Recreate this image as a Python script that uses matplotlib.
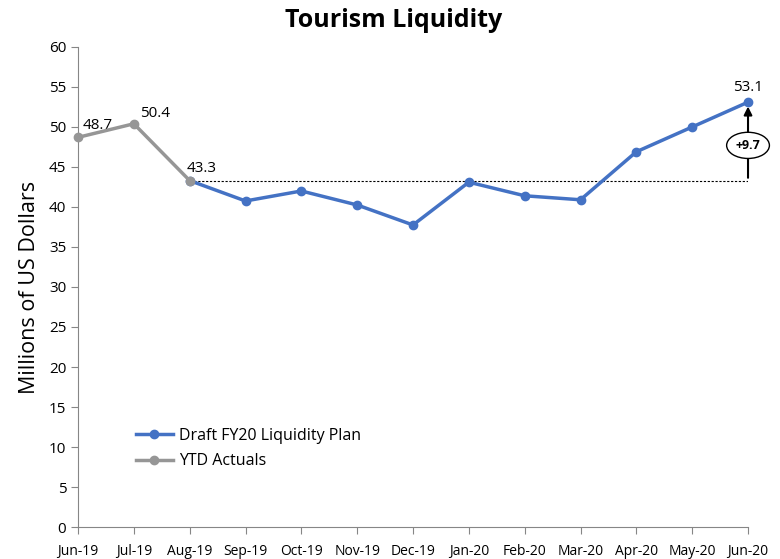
import matplotlib
matplotlib.use('Agg')
from matplotlib import pyplot as plt
from matplotlib import font_manager

fams = set(f.name for f in font_manager.fontManager.ttflist)
font = 'Liberation Sans Narrow' if 'Liberation Sans Narrow' in fams else 'Open Sans'
plt.rcParams['font.family'] = [font, 'DejaVu Sans']

months = ['Jun-19', 'Jul-19', 'Aug-19', 'Sep-19', 'Oct-19', 'Nov-19', 'Dec-19',
          'Jan-20', 'Feb-20', 'Mar-20', 'Apr-20', 'May-20', 'Jun-20']
plan = [43.3, 40.75, 42.0, 40.25, 37.75, 43.1, 41.4, 40.9, 46.9, 50.0, 53.1]
actuals = [48.7, 50.4, 43.3]
change_label = '+9.7'
yticks = list(range(0, 61, 5))

blue = '#4472C4'
grey = '#969696'

fig = plt.figure(figsize=(7.8, 5.59), dpi=100)
ax = fig.add_axes([0.1, 0.0572, 0.859, 0.8588])

x = list(range(len(months)))
ax.plot(x[2:], plan, color=blue, lw=2.5, marker='o', ms=6, label='Draft FY20 Liquidity Plan',
        zorder=3, clip_on=False)
ax.plot(x[:3], actuals, color=grey, lw=2.5, marker='o', ms=6, label='YTD Actuals',
        zorder=4, clip_on=False)

# reference line and change arrow
ax.plot([x[2], x[-1]], [actuals[-1], actuals[-1]], color='black', lw=0.8, ls=(0, (2, 1.5)), zorder=2)
ax.annotate('', xy=(x[-1], plan[-1] - 0.2), xytext=(x[-1], actuals[-1]),
            arrowprops=dict(arrowstyle='-|>', color='black', lw=1.5, mutation_scale=12),
            zorder=5, annotation_clip=False)
ax.text(x[-1], 47.7, change_label, ha='center', va='center',
        fontsize=9, fontweight='bold',
        bbox=dict(boxstyle='ellipse,pad=0.22', fc='white', ec='black', lw=1), zorder=6)

# data labels
ax.text(x[0] + 0.08, actuals[0] + 0.6, '{:.1f}'.format(actuals[0]), fontsize=11, va='bottom')
ax.text(x[1] + 0.12, actuals[1] + 0.3, '{:.1f}'.format(actuals[1]), fontsize=11, va='bottom')
ax.text(x[2] - 0.05, actuals[2] + 0.6, '{:.1f}'.format(actuals[2]), fontsize=11, va='bottom')
ax.text(x[-1], plan[-1] + 0.9, '{:.1f}'.format(plan[-1]), fontsize=11, va='bottom', ha='center')

ax.set_xlim(x[0], x[-1])
ax.set_ylim(0, 60)
ax.set_yticks(yticks)
ax.set_xticks(x)
ax.set_xticklabels(months)
ax.tick_params(axis='both', color='#868686', direction='out', length=5)
ax.tick_params(axis='y', labelsize=11)
ax.tick_params(axis='x', labelsize=10, pad=7)
for s in ['top', 'right']:
    ax.spines[s].set_visible(False)
for s in ['left', 'bottom']:
    ax.spines[s].set_color('#868686')

ax.set_ylabel('Millions of US Dollars', fontsize=15.5, labelpad=6)
fig.suptitle('Tourism Liquidity', x=0.505, y=0.985, fontsize=18, fontweight='bold',
             family=['Open Sans', 'DejaVu Sans'])

ax.legend(loc='lower left', bbox_to_anchor=(0.065, 0.09), frameon=False, fontsize=11.5,
          handlelength=2.3, handletextpad=0.4, labelspacing=0.6)

fig.savefig('out.png', dpi=100)
